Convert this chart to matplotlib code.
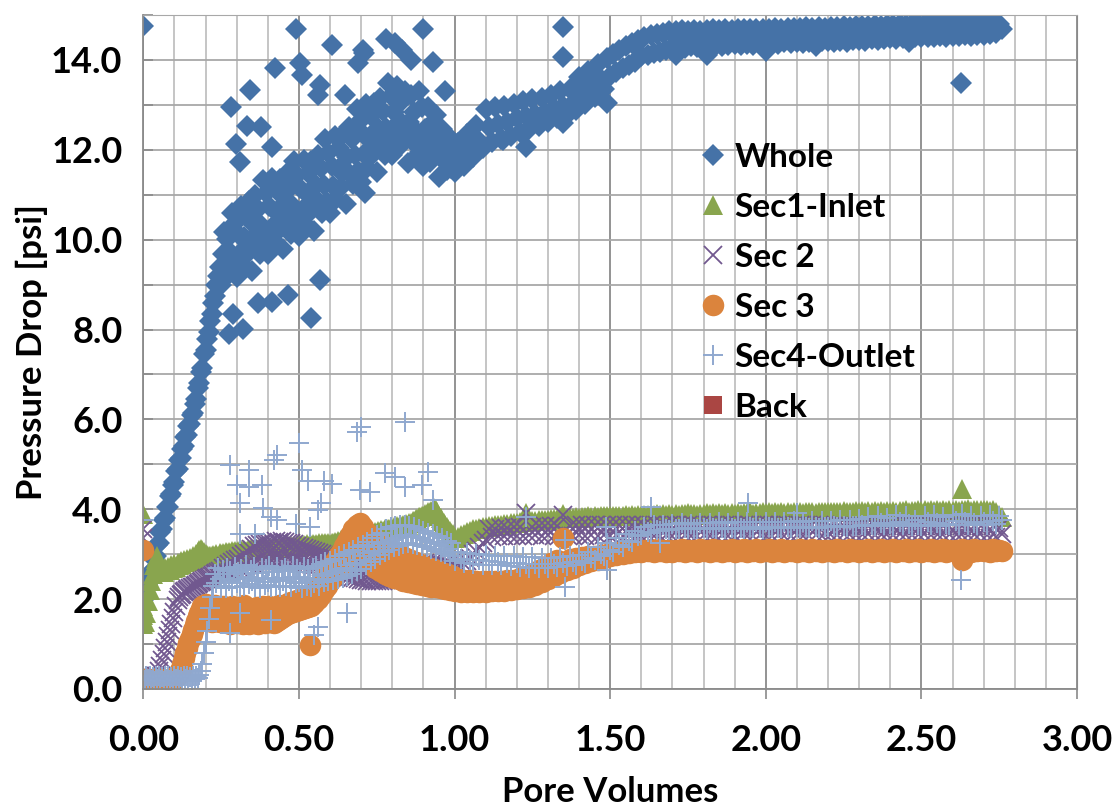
import numpy as np
import matplotlib
matplotlib.use("Agg")
import matplotlib.pyplot as plt
from matplotlib.ticker import MultipleLocator, FormatStrFormatter

plt.rcParams["font.family"] = ["Lato", "DejaVu Sans"]
plt.rcParams["font.weight"] = "bold"

# Pore volumes at which the pressure transducers were logged
pv_start = [
    0.000, 0.005, 0.010, 0.015, 0.020, 0.025, 0.030, 0.035, 0.040, 0.045,
    0.050, 0.055, 0.060, 0.065, 0.070, 0.075, 0.080, 0.085, 0.090, 0.095,
    0.100, 0.105, 0.110, 0.115, 0.120, 0.125, 0.130, 0.135, 0.140, 0.145,
    0.150, 0.155, 0.160, 0.165, 0.170, 0.175, 0.180, 0.185, 0.190, 0.195,
    0.200, 0.205, 0.210, 0.215, 0.220, 0.225, 0.230, 0.235, 0.240, 0.245]
pv_mid = [
    0.250, 0.255, 0.260, 0.265, 0.270, 0.275, 0.280, 0.285, 0.290, 0.295,
    0.300, 0.305, 0.310, 0.315, 0.320, 0.325, 0.330, 0.335, 0.340, 0.345,
    0.350, 0.355, 0.360, 0.365, 0.370, 0.375, 0.380, 0.385, 0.390, 0.395,
    0.400, 0.405, 0.410, 0.415, 0.420, 0.425, 0.430, 0.435, 0.440, 0.445,
    0.450, 0.455, 0.460, 0.465, 0.470, 0.475, 0.480, 0.485, 0.490, 0.495,
    0.500, 0.505, 0.510, 0.515, 0.520, 0.525, 0.530, 0.535, 0.540, 0.545,
    0.550, 0.555, 0.560, 0.565, 0.570, 0.575, 0.580, 0.585, 0.590, 0.595,
    0.600, 0.605, 0.610, 0.615, 0.620, 0.625, 0.630, 0.635, 0.640, 0.645,
    0.650, 0.655, 0.660, 0.665, 0.670, 0.675, 0.680, 0.685, 0.690, 0.695,
    0.700, 0.705, 0.710, 0.715, 0.720, 0.725, 0.730, 0.735, 0.740, 0.745,
    0.750, 0.755, 0.760, 0.765, 0.770, 0.775, 0.780, 0.785, 0.790, 0.795,
    0.800, 0.805, 0.810, 0.815, 0.820, 0.825, 0.830, 0.835, 0.840, 0.845,
    0.850, 0.855, 0.860, 0.865, 0.870, 0.875, 0.880, 0.885, 0.890, 0.895,
    0.900, 0.905, 0.910, 0.915, 0.920, 0.925, 0.930, 0.935, 0.940, 0.945,
    0.950, 0.955, 0.960, 0.965, 0.970, 0.975, 0.980, 0.985, 0.990, 0.995]
pv_end = [
    1.00, 1.01, 1.02, 1.03, 1.04, 1.05, 1.06, 1.07, 1.08, 1.09,
    1.10, 1.11, 1.12, 1.13, 1.14, 1.15, 1.16, 1.17, 1.18, 1.19,
    1.20, 1.21, 1.22, 1.23, 1.24, 1.25, 1.26, 1.27, 1.28, 1.29,
    1.30, 1.31, 1.32, 1.33, 1.34, 1.35, 1.36, 1.37, 1.38, 1.39,
    1.40, 1.41, 1.42, 1.43, 1.44, 1.45, 1.46, 1.47, 1.48, 1.49,
    1.50, 1.51, 1.52, 1.53, 1.54, 1.55, 1.56, 1.57, 1.58, 1.59,
    1.60, 1.61, 1.62, 1.63, 1.64, 1.65, 1.66, 1.67, 1.68, 1.69,
    1.70, 1.71, 1.72, 1.73, 1.74, 1.75, 1.76, 1.77, 1.78, 1.79,
    1.80, 1.81, 1.82, 1.83, 1.84, 1.85, 1.86, 1.87, 1.88, 1.89,
    1.90, 1.91, 1.92, 1.93, 1.94, 1.95, 1.96, 1.97, 1.98, 1.99,
    2.00, 2.01, 2.02, 2.03, 2.04, 2.05, 2.06, 2.07, 2.08, 2.09,
    2.10, 2.11, 2.12, 2.13, 2.14, 2.15, 2.16, 2.17, 2.18, 2.19,
    2.20, 2.21, 2.22, 2.23, 2.24, 2.25, 2.26, 2.27, 2.28, 2.29,
    2.30, 2.31, 2.32, 2.33, 2.34, 2.35, 2.36, 2.37, 2.38, 2.39,
    2.40, 2.41, 2.42, 2.43, 2.44, 2.45, 2.46, 2.47, 2.48, 2.49,
    2.50, 2.51, 2.52, 2.53, 2.54, 2.55, 2.56, 2.57, 2.58, 2.59,
    2.60, 2.61, 2.62, 2.63, 2.64, 2.65, 2.66, 2.67, 2.68, 2.69,
    2.70, 2.71, 2.72, 2.73, 2.74, 2.75, 2.76]

# Whole core pressure drop [psi]
whole_start = [
    1.85, 2.25, 2.05, 2.35, 2.40, 2.60, 2.65, 2.90, 2.95, 3.20,
    3.25, 3.50, 3.55, 3.75, 3.80, 4.05, 4.05, 4.30, 4.35, 4.55,
    4.60, 4.85, 4.90, 5.10, 5.15, 5.35, 5.40, 5.60, 5.65, 5.85,
    5.90, 6.10, 6.15, 6.35, 6.45, 6.70, 6.80, 7.05, 7.15, 7.45,
    7.55, 7.80, 7.95, 8.20, 8.35, 8.60, 8.75, 9.00, 9.20, 9.40]
whole_mid = [
    9.00, 9.69, 10.18, 9.43, 10.01, 9.23, 9.73, 10.59, 9.40, 10.38,
    9.18, 10.12, 9.71, 10.76, 9.44, 10.07, 10.53, 9.70, 10.85, 10.02,
    9.30, 10.32, 10.99, 9.94, 10.69, 9.69, 10.31, 11.33, 9.93, 11.04,
    9.69, 10.74, 10.27, 11.38, 9.96, 10.61, 11.08, 10.21, 11.36, 10.52,
    9.80, 10.81, 11.46, 10.41, 11.15, 10.13, 10.74, 11.76, 10.34, 11.44,
    10.09, 11.14, 10.67, 11.78, 10.36, 11.01, 11.48, 10.61, 11.76, 10.92,
    10.20, 11.22, 11.89, 10.84, 11.59, 10.59, 11.21, 12.23, 10.83, 11.94,
    10.59, 11.65, 11.20, 12.31, 10.90, 11.57, 12.05, 11.18, 12.35, 11.52,
    10.80, 11.83, 12.51, 11.47, 12.24, 11.24, 11.88, 12.91, 11.52, 12.64,
    11.29, 12.35, 11.90, 13.01, 11.60, 12.27, 12.75, 11.88, 13.05, 12.22,
    11.50, 12.49, 13.15, 12.13, 12.86, 11.88, 12.49, 13.48, 12.12, 13.20,
    11.89, 12.85, 12.40, 13.42, 12.06, 12.65, 13.08, 12.23, 13.30, 12.48,
    11.70, 12.63, 13.21, 12.18, 12.85, 11.84, 12.40, 13.32, 11.95, 12.96,
    11.63, 12.47, 12.06, 12.95, 11.74, 12.24, 12.61, 11.85, 12.78, 12.05,
    11.40, 12.09, 12.46, 11.75, 12.14, 11.55, 11.84, 12.27, 11.59, 12.01]
whole_end = [
    11.50, 12.15, 11.85, 11.65, 12.35, 12.00, 11.85, 12.55, 12.20, 12.05,
    12.90, 12.50, 12.18, 12.95, 12.58, 12.24, 12.98, 12.62, 12.30, 13.02,
    12.70, 12.40, 13.08, 12.75, 12.46, 13.12, 12.80, 12.52, 13.16, 12.85,
    12.62, 13.22, 12.92, 12.70, 13.30, 12.98, 12.78, 13.36, 13.05, 12.88,
    13.62, 13.30, 13.02, 13.75, 13.42, 13.18, 13.90, 13.58, 13.35, 14.05,
    13.65, 14.14, 13.73, 14.22, 13.81, 14.30, 13.88, 14.37, 13.96, 14.45,
    14.08, 14.52, 14.12, 14.55, 14.15, 14.58, 14.18, 14.60, 14.22, 14.64,
    14.28, 14.64, 14.30, 14.66, 14.26, 14.65, 14.30, 14.67, 14.28, 14.64,
    14.32, 14.66, 14.30, 14.68, 14.33, 14.67, 14.31, 14.68, 14.34, 14.66,
    14.35, 14.68, 14.33, 14.70, 14.36, 14.68, 14.34, 14.70, 14.37, 14.69,
    14.36, 14.70, 14.38, 14.71, 14.36, 14.70, 14.39, 14.72, 14.37, 14.71,
    14.40, 14.72, 14.38, 14.73, 14.41, 14.72, 14.39, 14.74, 14.42, 14.72,
    14.42, 14.74, 14.40, 14.73, 14.43, 14.75, 14.41, 14.74, 14.44, 14.75,
    14.45, 14.76, 14.43, 14.75, 14.46, 14.77, 14.44, 14.76, 14.47, 14.78,
    14.48, 14.78, 14.46, 14.79, 14.49, 14.78, 14.47, 14.80, 14.50, 14.79,
    14.50, 14.81, 14.52, 14.80, 14.51, 14.82, 14.53, 14.81, 14.52, 14.83,
    14.53, 14.83, 14.54, 14.82, 14.55, 14.84, 14.53, 14.83, 14.56, 14.82,
    14.56, 14.82, 14.58, 14.81, 14.60, 14.80, 14.70]
whole_spike_pv = [
    0.00, 0.49, 0.605, 0.424, 0.505, 0.51, 0.342, 0.281, 0.333, 0.378,
    0.298, 0.31, 0.413, 0.568, 0.562, 0.648, 0.78, 0.90, 0.705, 0.539,
    0.568, 0.275, 0.321, 0.367, 0.413, 0.464, 0.287, 0.711, 1.35, 1.35,
    1.35, 1.49, 1.23, 1.156, 2.628, 1.60, 1.71, 1.81, 2.00, 2.16,
    2.46, 0.69, 0.71, 0.81, 0.83, 0.86, 0.93, 0.97]
whole_spike = [
    14.76, 14.68, 14.33, 13.81, 13.93, 13.67, 13.33, 12.96, 12.53, 12.51,
    12.13, 11.72, 12.07, 13.44, 13.22, 13.22, 14.46, 14.70, 14.22, 8.26,
    9.11, 7.91, 8.02, 8.58, 8.61, 8.76, 8.35, 11.03, 14.74, 14.07,
    12.59, 13.04, 12.07, 12.22, 13.48, 14.10, 14.10, 14.12, 14.20, 14.30,
    14.40, 13.93, 14.15, 14.37, 14.22, 14.00, 13.96, 13.30]

# Section 1 (inlet)
sec1_start = [
    3.90, 1.50, 1.70, 1.95, 2.20, 2.40, 2.55, 2.75, 2.90, 2.95,
    2.70, 2.60, 2.65, 2.60, 2.70, 2.65, 2.72, 2.65, 2.75, 2.70,
    2.78, 2.72, 2.80, 2.75, 2.85, 2.78, 2.88, 2.82, 2.90, 2.85,
    2.92, 2.88, 2.95, 2.90, 3.00, 3.05, 3.10, 3.12, 3.10, 3.05,
    3.00, 2.98, 2.95, 2.97, 2.95, 2.98, 2.96, 3.00, 2.97, 3.02]
sec1_mid = [
    3.00, 3.03, 3.01, 3.04, 3.02, 3.05, 3.03, 3.06, 3.04, 3.07,
    3.05, 3.08, 3.06, 3.09, 3.06, 3.10, 3.07, 3.10, 3.08, 3.11,
    3.08, 3.11, 3.08, 3.12, 3.09, 3.12, 3.09, 3.13, 3.10, 3.13,
    3.10, 3.13, 3.11, 3.14, 3.12, 3.15, 3.12, 3.16, 3.13, 3.16,
    3.14, 3.17, 3.14, 3.18, 3.15, 3.18, 3.16, 3.19, 3.16, 3.20,
    3.17, 3.20, 3.18, 3.21, 3.18, 3.22, 3.19, 3.22, 3.20, 3.23,
    3.20, 3.23, 3.21, 3.24, 3.21, 3.25, 3.22, 3.25, 3.22, 3.26,
    3.22, 3.26, 3.24, 3.28, 3.26, 3.30, 3.28, 3.32, 3.30, 3.34,
    3.30, 3.33, 3.32, 3.35, 3.34, 3.37, 3.35, 3.39, 3.37, 3.41,
    3.37, 3.41, 3.40, 3.44, 3.42, 3.46, 3.44, 3.48, 3.46, 3.50,
    3.47, 3.51, 3.49, 3.53, 3.51, 3.55, 3.53, 3.57, 3.55, 3.59,
    3.57, 3.60, 3.58, 3.62, 3.60, 3.63, 3.62, 3.65, 3.64, 3.67,
    3.66, 3.70, 3.70, 3.74, 3.74, 3.78, 3.78, 3.82, 3.82, 3.86,
    3.86, 3.89, 3.90, 3.93, 3.94, 3.97, 3.98, 4.02, 3.98, 3.94,
    3.85, 3.80, 3.74, 3.70, 3.65, 3.60, 3.56, 3.52, 3.48, 3.44]
sec1_end = [
    3.35, 3.38, 3.42, 3.46, 3.50, 3.52, 3.55, 3.56, 3.58, 3.60,
    3.61, 3.62, 3.63, 3.64, 3.65, 3.66, 3.67, 3.68, 3.69, 3.70,
    3.70, 3.71, 3.72, 3.92, 3.73, 3.74, 3.74, 3.75, 3.76, 3.77,
    3.77, 3.78, 3.78, 3.79, 3.80, 3.90, 3.80, 3.81, 3.81, 3.82,
    3.81, 3.83, 3.82, 3.84, 3.83, 3.84, 3.83, 3.85, 3.84, 3.85,
    3.84, 3.86, 3.85, 3.86, 3.85, 3.87, 3.85, 3.87, 3.86, 3.88,
    3.86, 3.88, 3.87, 3.88, 3.87, 3.89, 3.87, 3.89, 3.88, 3.90,
    3.88, 3.90, 3.88, 3.90, 3.89, 3.91, 3.89, 3.90, 3.88, 3.90,
    3.89, 3.91, 3.89, 3.91, 3.90, 3.92, 3.89, 3.91, 3.90, 3.92,
    3.90, 3.92, 3.90, 3.92, 3.91, 3.93, 3.90, 3.92, 3.91, 3.93,
    3.91, 3.93, 3.91, 3.93, 3.92, 3.94, 3.91, 3.93, 3.92, 3.94,
    3.92, 3.94, 3.92, 3.94, 3.93, 3.95, 3.92, 3.94, 3.93, 3.95,
    3.93, 3.95, 3.93, 3.95, 3.94, 3.96, 3.93, 3.95, 3.94, 3.96,
    3.94, 3.96, 3.94, 3.96, 3.95, 3.97, 3.94, 3.96, 3.95, 3.97,
    3.95, 3.97, 3.95, 3.97, 3.96, 3.98, 3.95, 3.97, 3.96, 3.98,
    3.96, 3.98, 3.96, 3.98, 3.97, 3.99, 3.96, 3.98, 3.97, 3.99,
    3.97, 3.99, 3.97, 3.99, 3.98, 4.00, 3.97, 3.99, 3.98, 3.99,
    3.98, 3.99, 3.97, 3.98, 3.94, 3.88, 3.82]
sec1_spike_pv = [0.00, 0.00, 0.00, 2.63]
sec1_spike = [1.45, 1.65, 1.85, 4.46]

# Section 2
sec2_start = [
    3.55, 0.20, 0.18, 0.22, 0.20, 0.24, 0.22, 0.26, 0.30, 0.30,
    0.40, 0.52, 0.65, 0.78, 0.92, 1.05, 1.18, 1.32, 1.45, 1.58,
    1.72, 1.85, 1.98, 2.05, 2.10, 2.12, 2.15, 2.18, 2.20, 2.22,
    2.24, 2.26, 2.28, 2.30, 2.32, 2.34, 2.36, 2.38, 2.40, 2.42,
    2.44, 2.46, 2.48, 2.50, 2.52, 2.54, 2.56, 2.58, 2.60, 2.62]
sec2_mid = [
    2.55, 2.70, 2.57, 2.74, 2.59, 2.78, 2.61, 2.82, 2.63, 2.86,
    2.65, 2.90, 2.68, 2.95, 2.71, 3.00, 2.74, 3.05, 2.77, 3.12,
    2.80, 3.18, 2.82, 3.20, 2.84, 3.22, 2.85, 3.24, 2.86, 3.25,
    2.87, 3.26, 2.88, 3.28, 2.89, 3.30, 2.90, 3.28, 2.89, 3.30,
    2.88, 3.28, 2.87, 3.26, 2.86, 3.24, 2.85, 3.22, 2.84, 3.18,
    2.83, 3.16, 2.82, 3.14, 2.81, 3.12, 2.80, 3.10, 2.79, 3.08,
    2.75, 3.05, 2.73, 3.03, 2.71, 3.00, 2.69, 2.98, 2.67, 2.96,
    2.65, 2.94, 2.63, 2.92, 2.61, 2.90, 2.59, 2.88, 2.57, 2.86,
    2.52, 2.80, 2.50, 2.78, 2.48, 2.76, 2.46, 2.74, 2.44, 2.72,
    2.43, 2.70, 2.42, 2.68, 2.41, 2.67, 2.40, 2.66, 2.40, 2.65,
    2.40, 2.62, 2.40, 2.62, 2.41, 2.63, 2.42, 2.64, 2.43, 2.65,
    2.44, 2.65, 2.45, 2.66, 2.46, 2.67, 2.47, 2.68, 2.48, 2.69,
    2.50, 2.72, 2.52, 2.73, 2.54, 2.75, 2.56, 2.76, 2.58, 2.78,
    2.60, 2.80, 2.61, 2.80, 2.62, 2.79, 2.62, 2.78, 2.61, 2.77,
    2.60, 2.76, 2.60, 2.75, 2.61, 2.74, 2.62, 2.73, 2.62, 2.72]
sec2_end = [
    2.64, 2.68, 2.72, 2.78, 2.85, 2.92, 3.00, 3.08, 3.16, 3.24,
    3.32, 3.55, 3.38, 3.57, 3.40, 3.58, 3.40, 3.59, 3.41, 3.60,
    3.40, 3.60, 3.41, 3.92, 3.42, 3.61, 3.42, 3.62, 3.41, 3.62,
    3.42, 3.62, 3.41, 3.63, 3.42, 3.88, 3.42, 3.63, 3.41, 3.64,
    3.42, 3.64, 3.41, 3.64, 3.42, 3.65, 3.41, 3.65, 3.42, 3.66,
    3.41, 3.66, 3.42, 3.65, 3.40, 3.66, 3.42, 3.65, 3.41, 3.66,
    3.40, 3.65, 3.42, 3.66, 3.41, 3.65, 3.40, 3.66, 3.42, 3.65,
    3.41, 3.65, 3.40, 3.66, 3.42, 3.65, 3.41, 3.66, 3.40, 3.65,
    3.42, 3.66, 3.41, 3.65, 3.40, 3.66, 3.42, 3.65, 3.41, 3.66,
    3.40, 3.65, 3.42, 3.66, 3.41, 3.65, 3.40, 3.66, 3.42, 3.65,
    3.41, 3.66, 3.40, 3.65, 3.42, 3.66, 3.41, 3.65, 3.40, 3.66,
    3.42, 3.65, 3.41, 3.66, 3.40, 3.65, 3.42, 3.66, 3.41, 3.65,
    3.38, 3.63, 3.37, 3.62, 3.36, 3.63, 3.38, 3.62, 3.37, 3.63,
    3.36, 3.62, 3.38, 3.63, 3.37, 3.62, 3.36, 3.63, 3.38, 3.62,
    3.37, 3.63, 3.36, 3.62, 3.38, 3.63, 3.37, 3.62, 3.36, 3.63,
    3.38, 3.62, 3.37, 3.63, 3.36, 3.62, 3.38, 3.63, 3.37, 3.62,
    3.36, 3.63, 3.38, 3.62, 3.37, 3.63, 3.36, 3.62, 3.38, 3.63,
    3.37, 3.62, 3.36, 3.62, 3.38, 3.58, 3.45]
sec2_spike_pv = [0.00]
sec2_spike = [3.35]

# Section 3
sec3_start = [
    3.10, 0.18, 0.22, 0.16, 0.20, 0.15, 0.22, 0.18, 0.14, 0.20,
    0.16, 0.22, 0.18, 0.14, 0.20, 0.16, 0.22, 0.18, 0.20, 0.24,
    0.22, 0.28, 0.32, 0.38, 0.45, 0.55, 0.68, 0.80, 0.92, 1.02,
    1.12, 1.22, 1.32, 1.42, 1.52, 1.62, 1.70, 1.78, 1.85, 1.88,
    1.90, 1.75, 1.60, 1.85, 1.50, 1.70, 1.88, 1.55, 1.75, 1.48]
sec3_mid = [
    1.50, 1.85, 1.55, 1.82, 1.48, 1.80, 1.45, 1.84, 1.50, 1.78,
    1.47, 1.75, 1.50, 1.83, 1.45, 1.86, 1.48, 1.80, 1.44, 1.72,
    1.50, 1.78, 1.46, 1.82, 1.44, 1.76, 1.50, 1.85, 1.47, 1.80,
    1.48, 1.84, 1.50, 1.78, 1.46, 1.82, 1.52, 1.86, 1.55, 1.84,
    1.60, 1.88, 1.64, 1.92, 1.68, 1.94, 1.72, 1.96, 1.74, 1.98,
    1.76, 2.00, 1.78, 2.02, 1.80, 2.05, 1.82, 2.08, 1.85, 2.10,
    1.92, 2.20, 2.00, 2.30, 2.10, 2.42, 2.20, 2.55, 2.30, 2.65,
    2.40, 2.75, 2.50, 2.85, 2.60, 2.95, 2.70, 3.05, 2.80, 3.18,
    2.90, 3.30, 3.00, 3.42, 3.15, 3.55, 3.30, 3.65, 3.45, 3.70,
    3.38, 3.60, 3.20, 3.50, 3.00, 3.42, 2.80, 3.10, 3.35, 2.70,
    2.95, 3.25, 2.62, 2.90, 3.20, 2.56, 2.85, 3.15, 2.52, 2.80,
    3.08, 2.47, 2.75, 3.02, 2.44, 2.70, 2.97, 2.41, 2.66, 2.92,
    2.38, 2.62, 2.87, 2.35, 2.58, 2.82, 2.33, 2.55, 2.78, 2.31,
    2.52, 2.74, 2.29, 2.50, 2.70, 2.27, 2.47, 2.66, 2.26, 2.45,
    2.62, 2.24, 2.42, 2.58, 2.22, 2.40, 2.55, 2.20, 2.38, 2.52]
sec3_end = [
    2.18, 2.45, 2.16, 2.43, 2.15, 2.42, 2.15, 2.41, 2.15, 2.40,
    2.16, 2.40, 2.17, 2.40, 2.18, 2.41, 2.19, 2.42, 2.20, 2.43,
    2.22, 2.46, 2.25, 2.50, 2.28, 2.56, 2.32, 2.64, 2.38, 2.72,
    2.45, 2.80, 2.52, 2.86, 2.58, 3.35, 2.64, 2.90, 2.70, 2.92,
    2.76, 2.94, 2.80, 2.96, 2.84, 2.97, 2.88, 2.99, 2.92, 3.00,
    2.95, 3.02, 2.98, 3.04, 3.00, 3.05, 3.02, 3.07, 3.04, 3.08,
    3.05, 3.10, 3.06, 3.10, 3.05, 3.11, 3.06, 3.10, 3.05, 3.10,
    3.05, 3.10, 3.06, 3.11, 3.05, 3.10, 3.07, 3.10, 3.05, 3.11,
    3.06, 3.10, 3.05, 3.11, 3.07, 3.10, 3.05, 3.10, 3.06, 3.11,
    3.05, 3.10, 3.07, 3.11, 3.05, 3.10, 3.06, 3.11, 3.05, 3.10,
    3.06, 3.11, 3.05, 3.10, 3.07, 3.11, 3.05, 3.10, 3.06, 3.10,
    3.05, 3.11, 3.06, 3.10, 3.05, 3.11, 3.07, 3.10, 3.05, 3.10,
    3.06, 3.10, 3.05, 3.11, 3.06, 3.10, 3.05, 3.11, 3.07, 3.10,
    3.05, 3.10, 3.06, 3.11, 3.05, 3.10, 3.06, 3.11, 3.05, 3.10,
    3.07, 3.11, 3.05, 3.10, 3.06, 3.11, 3.05, 3.10, 3.06, 3.11,
    3.05, 3.10, 3.06, 3.11, 3.05, 3.10, 3.07, 3.11, 3.05, 3.10,
    3.06, 3.10, 3.05, 3.11, 3.06, 3.10, 3.05, 3.11, 3.06, 3.10,
    3.06, 3.10, 3.05, 3.11, 3.06, 3.10, 3.08]
sec3_spike_pv = [0.535, 2.63]
sec3_spike = [0.97, 2.86]

# Section 4 (outlet)
sec4_start = [
    3.75, 0.20, 0.28, 0.22, 0.30, 0.20, 0.26, 0.18, 0.28, 0.22,
    0.30, 0.20, 0.26, 0.18, 0.28, 0.22, 0.30, 0.20, 0.26, 0.18,
    0.28, 0.22, 0.30, 0.20, 0.26, 0.18, 0.28, 0.22, 0.30, 0.20,
    0.26, 0.18, 0.28, 0.22, 0.30, 0.25, 0.32, 0.40, 0.55, 0.80,
    1.05, 1.30, 1.55, 1.80, 2.05, 2.30, 2.55, 2.35, 2.70, 2.45]
sec4_mid = [
    2.30, 2.65, 2.45, 2.25, 2.70, 2.40, 2.62, 2.28, 2.55, 2.72,
    2.35, 2.60, 2.26, 2.68, 2.45, 2.30, 2.75, 2.50, 2.33, 2.64,
    2.40, 2.72, 2.28, 2.58, 2.44, 2.25, 2.70, 2.48, 2.32, 2.66,
    2.38, 2.74, 2.27, 2.60, 2.46, 2.30, 2.72, 2.42, 2.26, 2.65,
    2.40, 2.70, 2.30, 2.62, 2.45, 2.28, 2.74, 2.50, 2.35, 2.68,
    2.38, 2.60, 2.25, 2.72, 2.48, 2.30, 2.66, 2.42, 2.28, 2.70,
    2.35, 2.74, 2.45, 2.30, 2.78, 2.52, 2.38, 2.82, 2.55, 2.40,
    2.85, 2.58, 2.42, 2.90, 2.62, 2.45, 2.95, 2.66, 2.48, 3.00,
    2.70, 2.52, 3.05, 2.75, 2.56, 3.10, 2.80, 2.62, 3.15, 2.88,
    2.68, 3.20, 2.95, 2.75, 3.28, 3.02, 2.82, 3.35, 3.08, 2.90,
    3.42, 3.15, 2.98, 3.48, 3.22, 3.05, 3.55, 3.28, 3.10, 3.60,
    3.32, 3.15, 3.62, 3.36, 3.18, 3.65, 3.40, 3.22, 3.66, 3.42,
    3.25, 3.62, 3.40, 3.22, 3.60, 3.38, 3.20, 3.56, 3.35, 3.18,
    3.52, 3.32, 3.15, 3.48, 3.28, 3.12, 3.44, 3.25, 3.08, 3.40,
    3.22, 3.05, 3.35, 3.18, 3.00, 3.30, 3.12, 2.96, 3.24, 3.05]
sec4_end = [
    2.85, 3.05, 2.90, 2.80, 3.02, 2.88, 2.78, 3.00, 2.86, 2.77,
    2.98, 2.84, 2.76, 2.97, 2.82, 2.75, 2.96, 2.80, 2.74, 2.95,
    2.80, 2.72, 2.94, 2.78, 2.70, 2.93, 2.78, 2.70, 2.92, 2.78,
    2.70, 2.92, 2.79, 2.71, 2.94, 2.80, 2.73, 2.96, 2.82, 2.75,
    2.98, 2.85, 2.80, 3.05, 2.92, 2.88, 3.15, 3.00, 2.96, 3.25,
    3.10, 3.05, 3.35, 3.20, 3.15, 3.45, 3.30, 3.28, 3.52, 3.40,
    3.42, 3.60, 3.50, 3.48, 3.64, 3.54, 3.52, 3.66, 3.56, 3.54,
    3.68, 3.57, 3.55, 3.70, 3.58, 3.56, 3.68, 3.57, 3.55, 3.70,
    3.58, 3.56, 3.70, 3.58, 3.57, 3.71, 3.59, 3.56, 3.70, 3.58,
    3.57, 3.72, 3.59, 3.57, 3.71, 3.60, 3.58, 3.72, 3.59, 3.57,
    3.72, 3.60, 3.58, 3.71, 3.59, 3.58, 3.72, 3.60, 3.58, 3.73,
    3.60, 3.58, 3.72, 3.60, 3.59, 3.73, 3.61, 3.59, 3.74, 3.61,
    3.60, 3.74, 3.62, 3.60, 3.75, 3.62, 3.61, 3.76, 3.63, 3.62,
    3.78, 3.65, 3.62, 3.82, 3.66, 3.63, 3.86, 3.70, 3.64, 3.80,
    3.68, 3.62, 3.88, 3.72, 3.64, 3.84, 3.68, 3.62, 3.76, 3.66,
    3.62, 3.86, 3.72, 3.65, 3.88, 3.70, 3.63, 3.82, 3.68, 3.64,
    3.88, 3.74, 3.66, 3.90, 3.72, 3.65, 3.84, 3.70, 3.64, 3.86,
    3.72, 3.66, 3.88, 3.74, 3.68, 3.84, 3.75]
sec4_spike_pv = [
    0.28, 0.34, 0.43, 0.50, 0.51, 0.30, 0.34, 0.38, 0.31, 0.385,
    0.41, 0.43, 0.57, 0.58, 0.31, 0.36, 0.49, 0.535, 0.28, 0.56,
    0.41, 0.31, 0.686, 0.70, 0.84, 0.776, 0.81, 0.915, 0.894, 0.84,
    0.605, 0.696, 0.728, 0.93, 0.653, 1.354, 1.488, 1.23, 1.354, 1.63,
    1.943, 1.49, 2.628, 2.10, 1.66, 0.42, 0.53, 0.56, 0.55]
sec4_spike = [
    4.98, 4.87, 5.20, 5.47, 4.87, 4.53, 4.49, 4.53, 4.13, 4.02,
    3.83, 3.75, 4.13, 4.64, 3.46, 3.46, 3.68, 3.60, 1.24, 1.37,
    1.53, 1.68, 5.72, 5.83, 5.94, 4.80, 4.72, 4.83, 4.53, 4.50,
    4.57, 4.42, 4.38, 4.20, 1.68, 2.27, 3.60, 3.83, 3.31, 4.05,
    4.13, 2.64, 2.42, 3.91, 3.24, 5.09, 4.64, 3.98, 1.20]

# Back-pressure series carries no logged values
back_pv = []
back = []

pv = pv_start + pv_mid + pv_end

series = [
    ("Whole", pv + whole_spike_pv, whole_start + whole_mid + whole_end + whole_spike,
     dict(marker="D", color="#4572A7", markersize=11, markeredgewidth=0)),
    ("Sec1-Inlet", pv + sec1_spike_pv, sec1_start + sec1_mid + sec1_end + sec1_spike,
     dict(marker="^", color="#89A54E", markersize=14, markeredgewidth=0)),
    ("Sec 2", pv + sec2_spike_pv, sec2_start + sec2_mid + sec2_end + sec2_spike,
     dict(marker="x", color="#71588F", markersize=13, markeredgewidth=1.3)),
    ("Sec 3", pv + sec3_spike_pv, sec3_start + sec3_mid + sec3_end + sec3_spike,
     dict(marker="o", color="#DB843D", markersize=15.5, markeredgewidth=0)),
    ("Sec4-Outlet", pv + sec4_spike_pv, sec4_start + sec4_mid + sec4_end + sec4_spike,
     dict(marker="+", color="#8FA8CF", markersize=15, markeredgewidth=1.4)),
    ("Back", back_pv, back,
     dict(marker="s", color="#AA4643", markersize=13, markeredgewidth=0)),
]

fig = plt.figure(figsize=(11.17, 8.08), dpi=100)
ax = fig.add_axes([0.1283, 0.1473, 0.8359, 0.8341])

for name, xs, ys, style in series:
    ax.plot(xs, ys, linestyle="none", label=name, **style)

ax.set_xlim(0, 3.0)
ax.set_ylim(0, 15.0)
ax.xaxis.set_major_locator(MultipleLocator(0.5))
ax.xaxis.set_minor_locator(MultipleLocator(0.1))
ax.yaxis.set_major_locator(MultipleLocator(2.0))
ax.yaxis.set_minor_locator(MultipleLocator(1.0))
ax.xaxis.set_major_formatter(FormatStrFormatter("%.2f"))
ax.yaxis.set_major_formatter(FormatStrFormatter("%.1f"))

ax.set_axisbelow(True)
ax.grid(which="major", axis="x", color="#8A8A8A", linewidth=1.3)
ax.grid(which="minor", axis="x", color="#C0C0C0", linewidth=1.3)
ax.grid(which="both", axis="y", color="#A8A8A8", linewidth=1.3)

ax.tick_params(axis="x", which="major", direction="out", length=7, width=1.2,
               color="#8A8A8A", pad=18, labelsize=26)
ax.tick_params(axis="x", which="minor", length=0)
ax.tick_params(axis="y", which="both", direction="in", length=7, width=1.2,
               color="#8A8A8A", pad=15, labelsize=26)

for side in ["left", "bottom"]:
    ax.spines[side].set_color("#8A8A8A")
    ax.spines[side].set_linewidth(1.3)
ax.spines["right"].set_color("#8A8A8A")
ax.spines["top"].set_color("#A8A8A8")

for lab in ax.get_xticklabels() + ax.get_yticklabels():
    lab.set_fontweight("bold")

ax.set_xlabel("Pore Volumes", fontsize=25, fontweight="bold", labelpad=14)
ax.set_ylabel("Pressure Drop [psi]", fontsize=25, fontweight="bold", labelpad=2)

leg = ax.legend(loc="upper left", bbox_to_anchor=(0.578, 0.83), frameon=False,
                prop=dict(size=24, weight="bold"), handlelength=1.0,
                handletextpad=0.15, labelspacing=0.63, borderaxespad=0)

fig.savefig("out.png", dpi=100)
